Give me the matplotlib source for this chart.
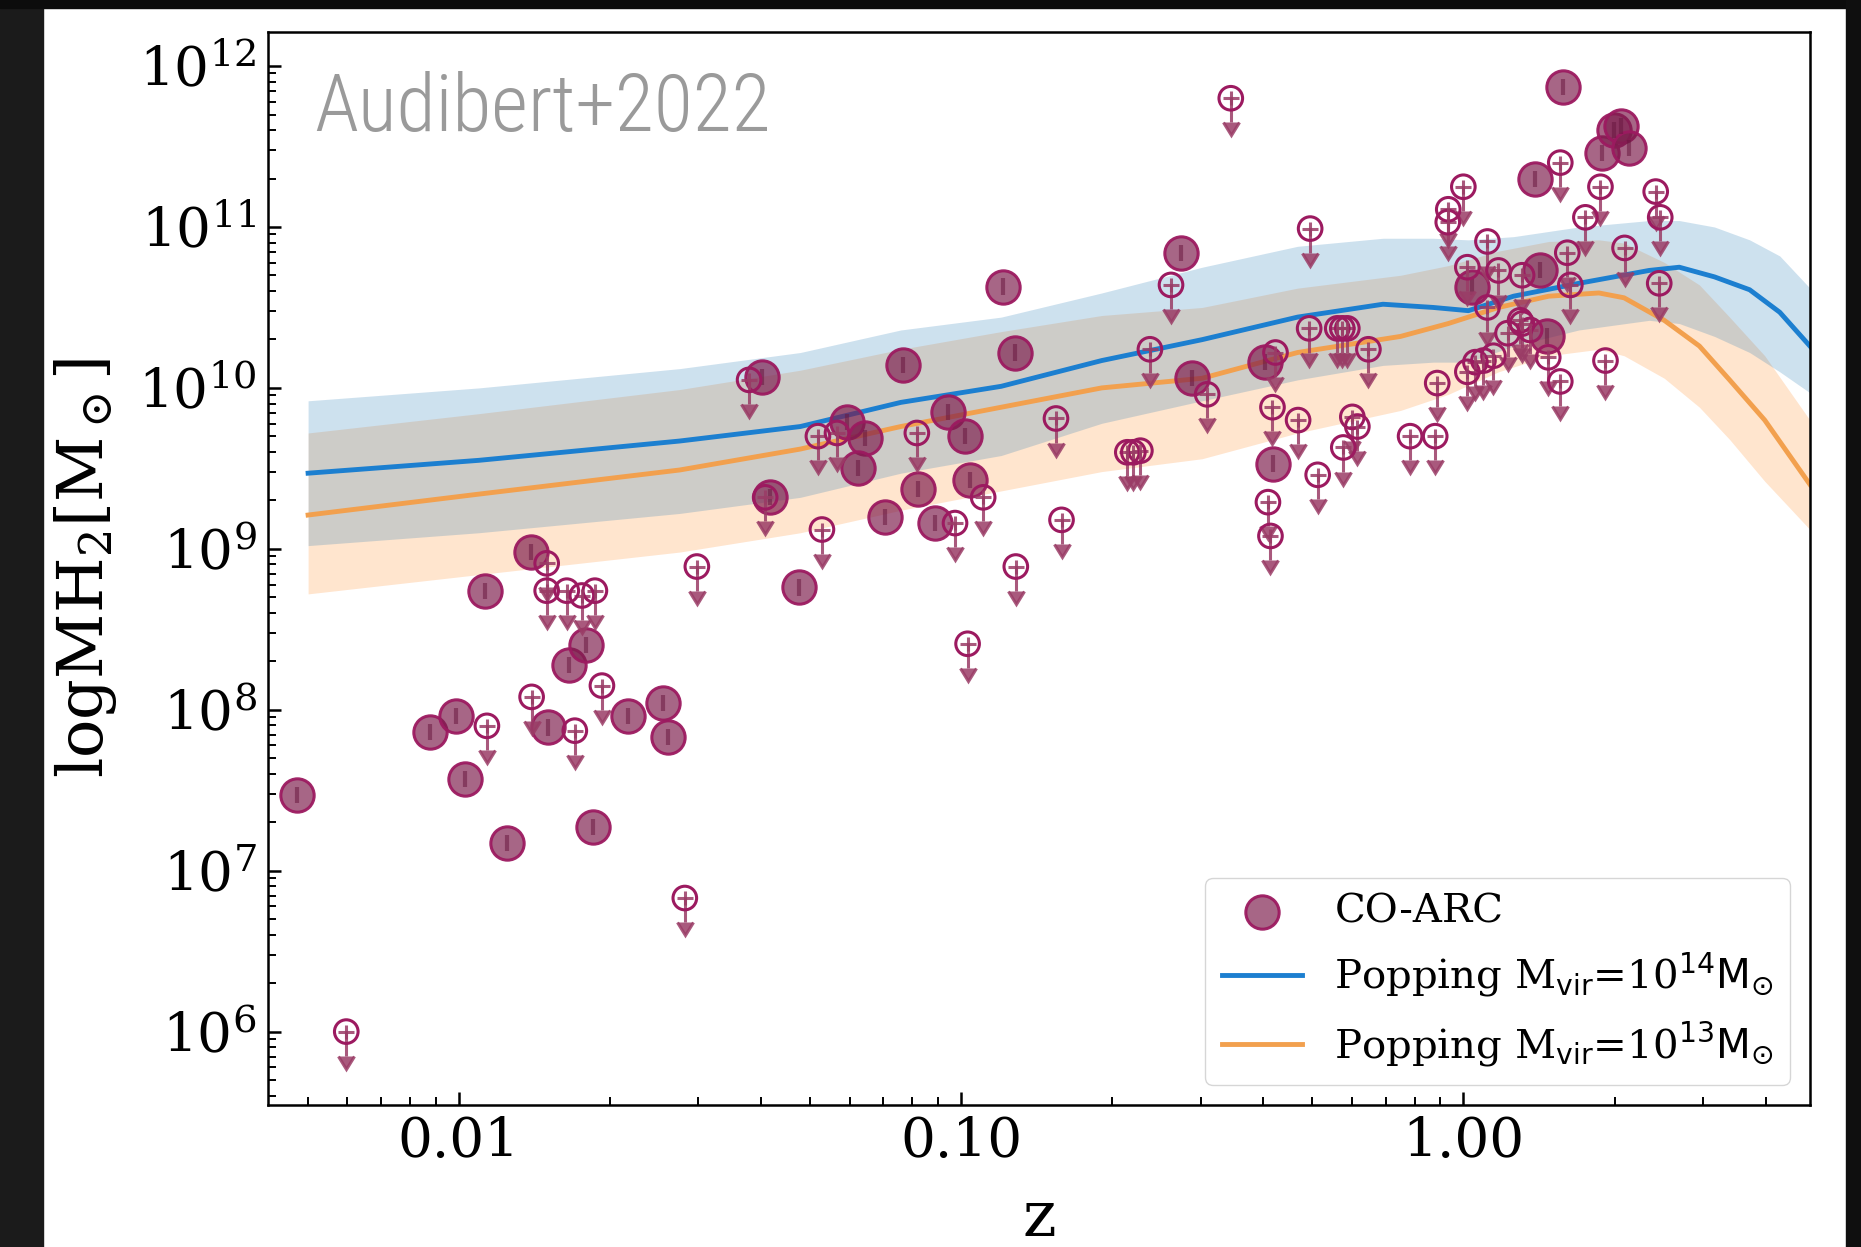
import os
import numpy as np
import matplotlib
matplotlib.use("Agg")
import matplotlib.pyplot as plt
from matplotlib import font_manager as fm
from matplotlib.ticker import FormatStrFormatter, NullFormatter, LogLocator
from matplotlib.patches import Rectangle
from matplotlib.colors import to_rgba

# Popping model, Mvir = 1e14 (log z, log M_H2 median and band)
m14_logz = [-2.30, -1.96, -1.56, -1.32, -1.12, -0.92, -0.72, -0.52, -0.33, -0.16,
            -0.06, 0.01, 0.10, 0.23, 0.37, 0.43, 0.50, 0.57, 0.63, 0.69]
m14_mid = [9.47, 9.55, 9.67, 9.76, 9.91, 10.01, 10.17, 10.30, 10.44, 10.52,
           10.50, 10.48, 10.57, 10.65, 10.73, 10.75, 10.69, 10.61, 10.47, 10.26]
m14_hi = [9.92, 10.00, 10.12, 10.22, 10.36, 10.44, 10.59, 10.75, 10.88, 10.93,
          10.93, 10.92, 10.94, 11.00, 11.04, 11.04, 11.00, 10.92, 10.82, 10.62]
m14_lo = [9.02, 9.10, 9.22, 9.32, 9.47, 9.58, 9.78, 9.92, 10.05, 10.14,
          10.16, 10.16, 10.26, 10.36, 10.42, 10.40, 10.32, 10.22, 10.10, 9.97]

# Popping model, Mvir = 1e13
m13_logz = [-2.30, -1.96, -1.56, -1.32, -1.12, -0.92, -0.72, -0.52, -0.33, -0.125,
            -0.03, 0.07, 0.17, 0.27, 0.32, 0.40, 0.47, 0.53, 0.60, 0.69]
m13_mid = [9.21, 9.34, 9.49, 9.62, 9.76, 9.88, 10.00, 10.06, 10.22, 10.32,
           10.40, 10.50, 10.57, 10.59, 10.56, 10.42, 10.26, 10.05, 9.80, 9.40]
m13_hi = [9.72, 9.84, 9.99, 10.11, 10.24, 10.35, 10.45, 10.50, 10.62, 10.70,
          10.76, 10.85, 10.91, 10.92, 10.90, 10.78, 10.64, 10.44, 10.20, 9.80]
m13_lo = [8.72, 8.84, 8.98, 9.10, 9.24, 9.36, 9.48, 9.56, 9.72, 9.86,
          9.96, 10.10, 10.20, 10.24, 10.20, 10.06, 9.88, 9.68, 9.42, 9.12]

# CO-ARC detections (log z, log M_H2)
det_logz = [-2.323, -2.058, -2.006, -1.988, -1.948, -1.904, -1.857, -1.823, -1.781, -1.747,
            -1.733, -1.663, -1.593, -1.583, -1.396, -1.380, -1.323, -1.227, -1.191, -1.205,
            -1.151, -1.116, -1.086, -1.052, -1.026, -0.992, -0.982, -0.916, -0.892, -0.562,
            -0.541, -0.394, -0.378, 0.017, 0.143, 0.153, 0.167, 0.199, 0.277, 0.299,
            0.313, 0.329]
det_logm = [7.47, 7.86, 7.96, 7.57, 8.74, 7.17, 8.98, 7.89, 8.28, 8.40,
            7.27, 7.96, 8.04, 7.83, 10.07, 9.32, 8.76, 9.79, 9.69, 9.50,
            9.20, 10.14, 9.37, 9.16, 9.85, 9.70, 9.43, 10.63, 10.22, 10.84,
            10.06, 10.16, 9.53, 10.63, 11.30, 10.73, 10.32, 11.87, 11.46, 11.60,
            11.63, 11.49]

# CO-ARC upper limits (log z, log M_H2)
ul_logz = [-2.224, -1.550, -1.944, -1.855, -1.825, -1.825, -1.785, -1.755, -1.729, -1.769,
           -1.715, -1.526, -1.422, -1.390, -1.285, -1.247, -1.277, -1.088, -1.012, -0.956,
           -0.987, -0.891, -0.811, -0.800, -0.669, -0.657, -0.643, -0.624, -0.582, -0.510,
           -0.463, -0.374, -0.380, -0.389, -0.384, -0.329, -0.305, -0.307, -0.290, -0.251,
           -0.241, -0.231, -0.221, -0.211, -0.239, -0.189, -0.106, -0.056, -0.052, 0.000,
           -0.030, -0.031, 0.048, 0.008, 0.070, 0.117, 0.193, 0.207, 0.213, 0.273,
           0.243, 0.321, 0.383, 0.392, 0.390, 0.048, 0.283, 0.193, 0.169, 0.008,
           0.024, 0.040, 0.060, 0.088, 0.117, 0.133, 0.113]
ul_logm = [6.00, 6.83, 7.90, 8.08, 8.91, 8.74, 8.74, 8.71, 8.74, 7.87,
           8.15, 8.89, 10.05, 9.32, 9.70, 9.72, 9.12, 9.72, 9.16, 9.32,
           8.41, 8.89, 9.81, 9.18, 9.60, 9.60, 9.61, 10.24, 10.64, 9.96,
           11.80, 10.22, 9.88, 9.29, 9.08, 9.80, 10.99, 10.37, 9.46, 10.37,
           10.37, 10.37, 9.82, 9.76, 9.63, 10.24, 9.70, 9.70, 10.03, 11.25,
           11.11, 11.03, 10.91, 10.75, 10.73, 10.70, 11.40, 10.84, 10.64, 11.25,
           11.06, 10.87, 11.22, 11.06, 10.65, 10.50, 10.17, 10.04, 10.19, 10.10,
           10.16, 10.17, 10.20, 10.34, 10.40, 10.36, 10.42]

label_14 = r'Popping M$_{\rm vir}$=10$^{14}\rm M_{\odot}$'
label_13 = r'Popping M$_{\rm vir}$=10$^{13}\rm M_{\odot}$'


def narrow_font():
    # the slide title uses a thin condensed sans; take whichever one is installed
    wanted = ['LiberationSansNarrow-Regular', 'RobotoCondensed-Light', 'RobotoCondensed-Regular',
              'NotoSans-CondensedLight', 'NotoSans-Condensed.', 'OpenSans-CondensedLight',
              'OpenSans_Condensed-Light', 'OpenSans-CondensedRegular', 'DejaVuSansCondensed.']
    files = [f.fname for f in fm.fontManager.ttflist]
    for w in wanted:
        for fn in files:
            if w.lower() in os.path.basename(fn).lower():
                return fm.FontProperties(fname=fn)
    for f in fm.fontManager.ttflist:
        if f.stretch in ('condensed', 'semi-condensed') and f.style == 'normal':
            return fm.FontProperties(fname=f.fname)
    return fm.FontProperties(family='DejaVu Sans')


plt.rcParams['font.family'] = 'serif'
plt.rcParams['font.serif'] = ['DejaVu Serif']
plt.rcParams['mathtext.fontset'] = 'dejavusans'

fig = plt.figure(figsize=(18.61, 12.47), dpi=100)
fig.patch.set_facecolor('white')
# dark slide borders of the screenshot
fig.patches.append(Rectangle((0, 0), 43 / 1861, 1, transform=fig.transFigure,
                             color='#1b1b1b', zorder=-5))
fig.patches.append(Rectangle((0, 1 - 8 / 1247), 1, 8 / 1247, transform=fig.transFigure,
                             color='#0c0c0c', zorder=-5))
fig.patches.append(Rectangle((1846 / 1861, 0), 15 / 1861, 1, transform=fig.transFigure,
                             color='#0f0f0f', zorder=-5))

ax = fig.add_axes([0.1440, 0.1139, 0.8286, 0.8605])

z14 = 10 ** np.array(m14_logz)
z13 = 10 ** np.array(m13_logz)
ax.fill_between(z13, 10 ** np.array(m13_lo), 10 ** np.array(m13_hi),
                color='#ff7f0e', alpha=0.2, lw=0, zorder=1)
ax.fill_between(z14, 10 ** np.array(m14_lo), 10 ** np.array(m14_hi),
                color='#1f77b4', alpha=0.22, lw=0, zorder=1)
l14, = ax.plot(z14, 10 ** np.array(m14_mid), color='#1c7fd0', lw=3.5, zorder=2, label=label_14)
l13, = ax.plot(z13, 10 ** np.array(m13_mid), color='#f2a04e', lw=3.5, zorder=2, label=label_13)

pcol = '#9c1a60'
acol = '#9a3c66'
det_z = 10 ** np.array(det_logz)
det_m = 10 ** np.array(det_logm)
det = ax.scatter(det_z, det_m, s=24 ** 2, facecolors=[to_rgba('#7d1d4d', 0.68)],
                 edgecolors=[to_rgba(pcol, 0.95)], linewidths=2.2, zorder=4, label='CO-ARC')
ax.errorbar(det_z, det_m, yerr=[det_m * (1 - 10 ** -0.05), det_m * (10 ** 0.05 - 1)],
            fmt='none', ecolor='#6a1840', elinewidth=3, alpha=0.55, zorder=5)

ul_z = 10 ** np.array(ul_logz)
ul_m = 10 ** np.array(ul_logm)
eb = ax.errorbar(ul_z, ul_m, yerr=ul_m * (1 - 10 ** -0.15), uplims=True, fmt='none',
                 ecolor=acol, elinewidth=2.2, capsize=6, capthick=2.2, alpha=0.85, zorder=6)
for cl in eb[1]:
    cl.set_markerfacecolor(acol)
    cl.set_markeredgecolor(acol)
ax.scatter(ul_z, ul_m, s=17 ** 2, facecolors='none', edgecolors=pcol, linewidths=2.2, zorder=7)
ax.scatter(ul_z, ul_m, s=10 ** 2, marker='|', color=acol, linewidths=2.2, alpha=0.85, zorder=7)

ax.set_xscale('log')
ax.set_yscale('log')
ax.set_xlim(0.00417, 4.9)
ax.set_ylim(3.5e5, 1.63e12)

ax.yaxis.set_major_locator(LogLocator(base=10, numticks=20))
ax.yaxis.set_minor_locator(LogLocator(base=10, subs=np.arange(2, 10), numticks=100))
ax.xaxis.set_major_formatter(FormatStrFormatter('%.2f'))
ax.xaxis.set_minor_formatter(NullFormatter())
ax.yaxis.set_minor_formatter(NullFormatter())
ax.tick_params(which='both', direction='in', top=False, right=False)
ax.tick_params(which='major', length=9.5, width=1.8, labelsize=39.5, pad=8)
ax.tick_params(which='minor', length=5.5, width=1.4)
for sp in ax.spines.values():
    sp.set_linewidth(1.8)

ax.set_xlabel('z', fontsize=46, labelpad=14)
ax.set_ylabel(r'$\rm log MH_2 [M_\odot]$', fontsize=46, labelpad=14,
              math_fontfamily='dejavuserif')

ax.legend(handles=[det, l14, l13], loc='lower right', fontsize=29,
          edgecolor='#cccccc', framealpha=0.8, scatterpoints=1)

title_fp = narrow_font()
title_fp.set_size(60)
title = fig.text(314 / 1861, 1 - 131 / 1247, 'Audibert+2022', fontproperties=title_fp,
                 color='#9a9a9a', ha='left', va='baseline')
# fit the title to the width it has on the slide
fig.canvas.draw()
w = title.get_window_extent().width
title.set_fontsize(60 * 457 / w)

fig.savefig('out.png', dpi=100)
